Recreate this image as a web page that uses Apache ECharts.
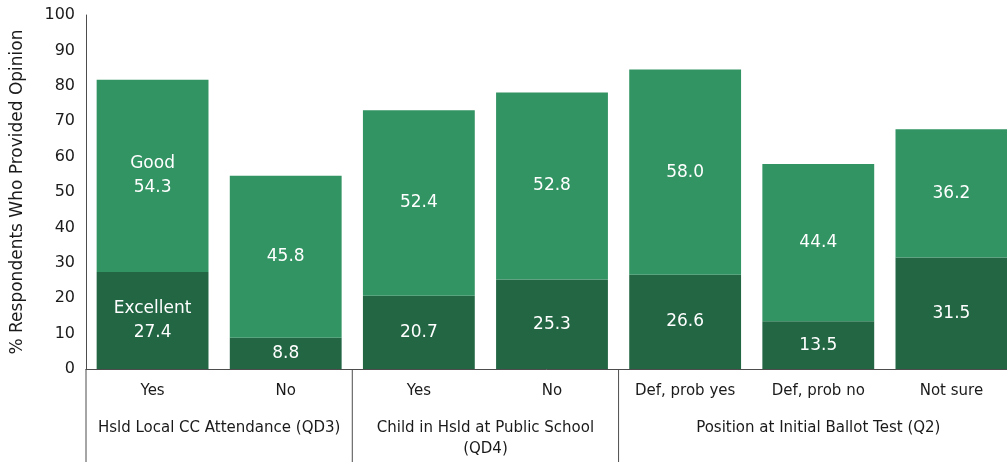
<!DOCTYPE html>
<html>
<head>
<meta charset="utf-8">
<script src="https://cdn.jsdelivr.net/npm/echarts@6/dist/echarts.min.js"></script>
<style>
  html, body { margin: 0; padding: 0; background: #fff; }
  #main { width: 1007px; height: 462px; }
</style>
</head>
<body>
<div id="main"></div>
<script>
// categories and values
var categories = ['Yes', 'No', 'Yes', 'No', 'Def, prob yes', 'Def, prob no', 'Not sure'];
var excellent = [27.4, 8.8, 20.7, 25.3, 26.6, 13.5, 31.5];
var good = [54.3, 45.8, 52.4, 52.8, 58.0, 44.4, 36.2];
var groupNames = ['Hsld Local CC Attendance (QD3)', 'Child in Hsld at Public School\n(QD4)', 'Position at Initial Ballot Test (Q2)'];
var groupSpans = [[0, 2], [2, 4], [4, 7]];

var FONT = 'DejaVu Sans';
var lineColor = '#4d4d4d';

var myChart = echarts.init(document.getElementById('main'));

function labelFmt(prefix) {
    return function (p) {
        var v = Number(p.value).toFixed(1);
        return p.dataIndex === 0 ? prefix + '\n' + v : v;
    };
}

var option = {
    animation: false,
    textStyle: { fontFamily: FONT },
    grid: { left: 86, top: 15, width: 932, bottom: 93, outerBoundsMode: 'none', containLabel: false },
    xAxis: [{
        type: 'category',
        data: categories,
        axisLine: { lineStyle: { color: lineColor } },
        axisTick: { show: false },
        axisLabel: { color: '#1a1a1a', fontSize: 15, fontFamily: FONT, margin: 15 }
    }, {
        type: 'value',
        min: 0,
        max: 7,
        show: false
    }],
    yAxis: {
        type: 'value',
        min: 0,
        max: 100,
        interval: 10,
        name: '% Respondents Who Provided Opinion',
        nameLocation: 'middle',
        nameGap: 60,
        nameTextStyle: { color: '#1a1a1a', fontSize: 17, fontFamily: FONT },
        axisLine: { show: true, lineStyle: { color: lineColor } },
        axisTick: { show: false },
        splitLine: { show: false },
        axisLabel: { color: '#1a1a1a', fontSize: 16, fontFamily: FONT, margin: 11 }
    },
    series: [{
        name: 'Excellent',
        type: 'bar',
        stack: 'rating',
        data: excellent,
        barCategoryGap: '16%',
        itemStyle: { color: '#226644' },
        label: {
            show: true,
            position: 'inside',
            color: '#fff',
            fontSize: 17,
            lineHeight: 24,
            fontFamily: FONT,
            formatter: labelFmt('Excellent')
        }
    }, {
        name: 'Good',
        type: 'bar',
        stack: 'rating',
        data: good,
        barCategoryGap: '16%',
        itemStyle: { color: '#329363' },
        label: {
            show: true,
            position: 'inside',
            color: '#fff',
            fontSize: 17,
            lineHeight: 24,
            fontFamily: FONT,
            formatter: labelFmt('Good')
        }
    }, {
        // group labels and separators under the category labels
        type: 'custom',
        xAxisIndex: 1,
        yAxisIndex: 0,
        clip: false,
        silent: true,
        encode: { x: [0, 1], y: 2 },
        data: groupSpans.map(function (s) { return [s[0], s[1], 0]; }),
        renderItem: function (params, api) {
            var i = params.dataIndex;
            var p0 = api.coord([api.value(0), 0]);
            var p1 = api.coord([api.value(1), 0]);
            return {
                type: 'group',
                children: [{
                    type: 'line',
                    shape: { x1: p0[0], y1: p0[1], x2: p0[0], y2: p0[1] + 95 },
                    style: { stroke: lineColor, lineWidth: 1 }
                }, {
                    type: 'text',
                    x: (p0[0] + p1[0]) / 2,
                    y: p0[1] + 49,
                    style: {
                        text: groupNames[i],
                        fill: '#1a1a1a',
                        font: '15px "' + FONT + '"',
                        align: 'center',
                        verticalAlign: 'top',
                        lineHeight: 21
                    }
                }]
            };
        }
    }]
};

myChart.setOption(option);
</script>
</body>
</html>
